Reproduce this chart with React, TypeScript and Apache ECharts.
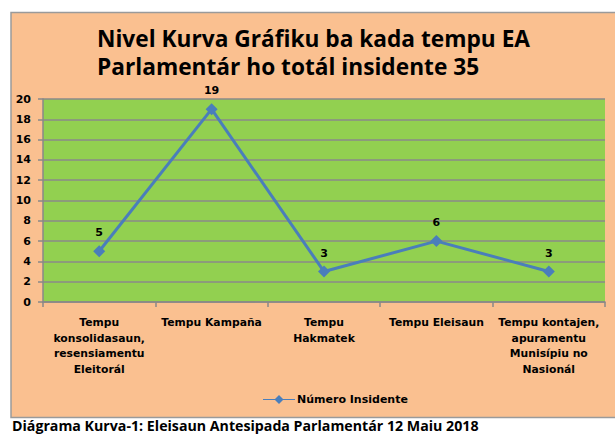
import React, { useEffect, useRef } from "react";
import * as echarts from "echarts";

const categories = [
  "Tempu\nkonsolidasaun,\nresensiamentu\nEleitorál",
  "Tempu Kampaña",
  "Tempu\nHakmatek",
  "Tempu Eleisaun",
  "Tempu kontajen,\napuramentu\nMunisípiu no\nNasionál",
];
const values = [5, 19, 3, 6, 3];
const seriesName = "Número Insidente";
const titleText = "Nivel Kurva Gráfiku ba kada tempu EA\nParlamentár ho totál insidente 35";
const captionText = "Diágrama Kurva-1: Eleisaun Antesipada Parlamentár 12 Maiu 2018";

const FONT = "Open Sans";
const SMALL = "DejaVu Sans";

export default function App() {
  const ref = useRef<HTMLDivElement>(null);
  useEffect(() => {
    const chart = echarts.init(ref.current!, null, { renderer: "svg" });
    chart.setOption({
      animation: false,
      backgroundColor: "#ffffff",
      textStyle: { fontFamily: FONT },
      graphic: [
        {
          type: "rect",
          z: -10,
          shape: { x: 11, y: 12.5, width: 610, height: 405 },
          style: { fill: "#FAC090", stroke: "#9a9a9a", lineWidth: 1.5 },
        },
        {
          type: "text",
          left: 12,
          top: 418,
          style: {
            text: captionText,
            font: `bold 14.2px "${FONT}"`,
            fill: "#000",
          },
        },
      ],
      title: {
        text: titleText,
        left: 97,
        top: 24,
        padding: 0,
        textStyle: {
          fontFamily: FONT,
          fontWeight: "bold",
          fontSize: 22.7,
          lineHeight: 28.5,
          color: "#000",
        },
      },
      legend: {
        top: 394,
        left: 263,
        padding: 0,
        itemGap: 4,
        itemWidth: 32,
        itemHeight: 9,
        icon: "path://M0,4 L12,4 L16,0 L20,4 L32,4 L32,5 L20,5 L16,9 L12,5 L0,5 Z",
        textStyle: { fontFamily: SMALL, fontWeight: "bold", fontSize: 11, color: "#000", padding: [0, 0, 0, -3] },
        data: [seriesName],
      },
      grid: {
        left: 43,
        right: 10,
        top: 99,
        bottom: 132,
        show: true,
        backgroundColor: "#92D050",
        borderWidth: 0,
      },
      xAxis: {
        type: "category",
        data: categories,
        boundaryGap: true,
        axisLine: { lineStyle: { color: "#888", width: 1.5 } },
        axisTick: { show: true, length: 5, lineStyle: { color: "#888", width: 1.5 } },
        axisLabel: {
          interval: 0,
          margin: 13,
          fontFamily: SMALL,
          fontWeight: "bold",
          fontSize: 10.8,
          lineHeight: 15.5,
          color: "#000",
        },
      },
      yAxis: {
        type: "value",
        min: 0,
        max: 20,
        interval: 2,
        axisLine: { show: true, lineStyle: { color: "#888", width: 1.5 } },
        axisTick: { show: true, length: 5, lineStyle: { color: "#888", width: 1.5 } },
        splitLine: { lineStyle: { color: "#8a8a8a", width: 1.5 } },
        axisLabel: {
          margin: 12,
          fontFamily: SMALL,
          fontWeight: "bold",
          fontSize: 11,
          color: "#000",
        },
      },
      series: [
        {
          name: seriesName,
          type: "line",
          data: values,
          color: "#4A7EBB",
          lineStyle: { width: 3, color: "#4A7EBB" },
          symbol: "diamond",
          symbolSize: 12,
          itemStyle: { color: "#4A7EBB" },
          label: {
            show: true,
            position: "top",
            distance: 7,
            fontFamily: SMALL,
            fontWeight: "bold",
            fontSize: 11,
            color: "#000",
          },
        },
      ],
    });
    return () => chart.dispose();
  }, []);
  return (
    <div
      ref={ref}
      style={{ position: "fixed", left: 0, top: 0, width: 615, height: 434 }}
    />
  );
}
